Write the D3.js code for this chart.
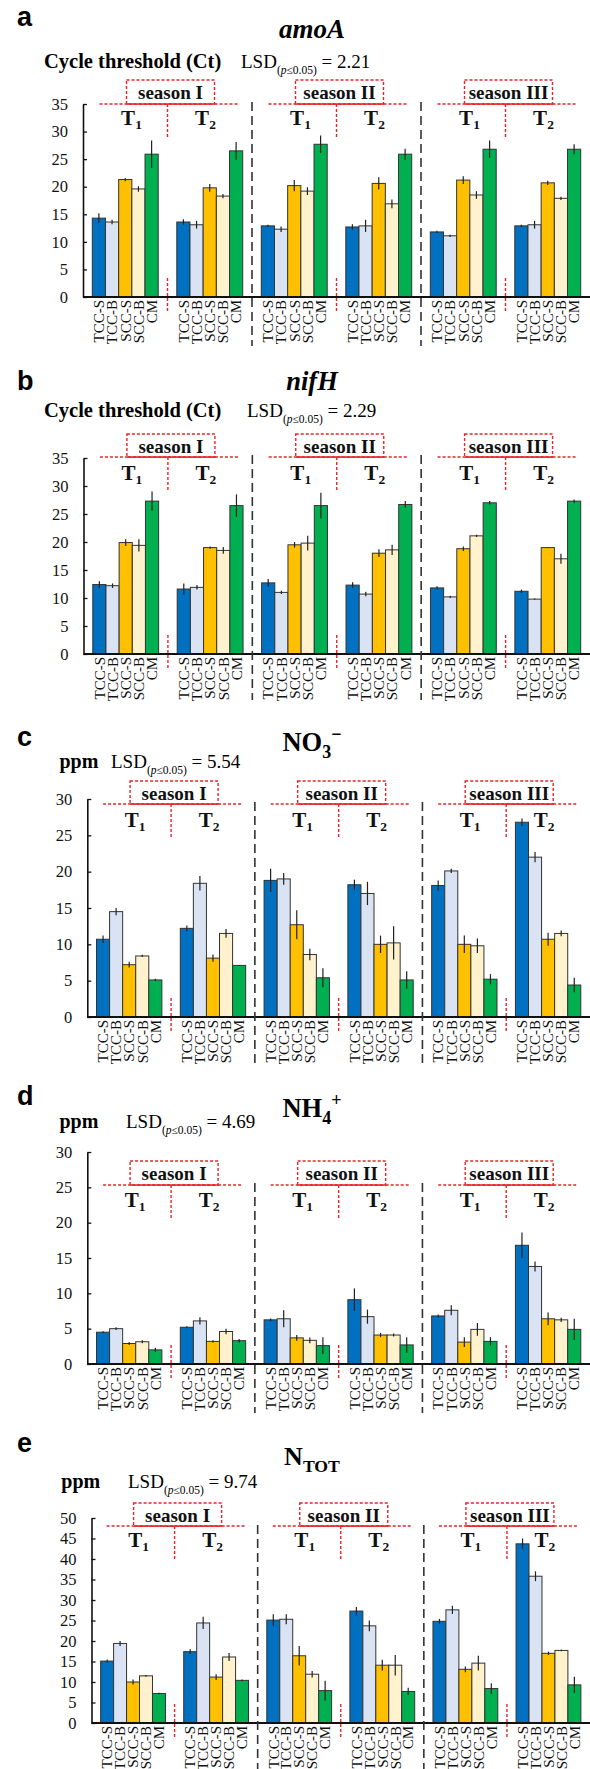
<!DOCTYPE html>
<html><head><meta charset="utf-8">
<script src="https://cdn.jsdelivr.net/npm/d3@7"></script>
<style>body{margin:0;background:#fff} svg{display:block}</style>
</head><body>
<svg id="c" width="590" height="1769"></svg>
<script>
// ---------- DATA ----------
const series = ["TCC-S","TCC-B","SCC-S","SCC-B","CM"];
const groups = ["S1-T1","S1-T2","S2-T1","S2-T2","S3-T1","S3-T2"];
const seasons = ["season I","season II","season III"];
const colors = ["#0070C0","#DAE3F3","#FFC000","#FFF2CC","#00B050"];

const amoA_mean = [[14.3,13.6,21.3,19.6,25.9],[13.6,13.1,19.8,18.3,26.5],[12.9,12.3,20.2,19.2,27.7],[12.7,12.9,20.6,16.9,25.9],[11.8,11.1,21.2,18.5,26.8],[12.9,13.1,20.7,17.9,26.8]];
const amoA_err  = [[0.9,0.4,0.3,0.5,2.5],[0.5,0.7,0.7,0.4,1.6],[0.2,0.5,1.0,0.7,1.6],[0.5,1.1,1.1,0.8,1.0],[0.2,0.2,0.7,0.7,1.6],[0.2,0.7,0.4,0.3,0.9]];
const nifH_mean = [[12.4,12.2,19.9,19.4,27.3],[11.6,11.9,19.0,18.5,26.5],[12.7,11.0,19.5,19.8,26.5],[12.3,10.7,18.0,18.6,26.7],[11.8,10.2,18.8,21.1,27.0],[11.2,9.8,19.0,17.0,27.3]];
const nifH_err  = [[0.6,0.4,0.6,1.1,1.7],[1.0,0.4,0.2,0.6,2.0],[0.7,0.3,0.5,1.3,2.3],[0.5,0.4,0.7,0.9,0.6],[0.3,0.2,0.4,0.2,0.3],[0.3,0.1,0.05,0.9,0.3]];
const no3_mean  = [[10.7,14.5,7.2,8.4,5.1],[12.2,18.4,8.1,11.5,7.1],[18.8,19.0,12.7,8.6,5.4],[18.2,17.0,10.0,10.2,5.1],[18.1,20.1,10.0,9.8,5.2],[26.8,22.0,10.7,11.5,4.4]];
const no3_err   = [[0.5,0.5,0.4,0.15,0.15],[0.4,1.0,0.5,0.6,0.05],[1.6,0.8,2.0,0.8,1.3],[0.7,1.6,1.2,2.3,1.2],[0.7,0.3,1.2,1.0,0.7],[0.5,0.7,0.9,0.4,1.0]];
const nh4_mean  = [[4.5,5.0,2.9,3.15,2.0],[5.2,6.1,3.2,4.6,3.3],[6.25,6.4,3.7,3.35,2.6],[9.1,6.7,4.1,4.1,2.7],[6.8,7.6,3.1,4.9,3.2],[16.8,13.8,6.4,6.25,4.9]];
const nh4_err   = [[0.15,0.2,0.2,0.2,0.3],[0.15,0.5,0.15,0.4,0.25],[0.2,1.2,0.4,0.4,1.2],[1.6,1.0,0.3,0.2,1.1],[0.2,0.7,0.7,0.9,0.6],[1.8,0.7,0.9,0.3,1.5]];
const ntot_mean = [[15.1,19.4,10.0,11.5,7.2],[17.4,24.4,11.2,16.1,10.4],[25.1,25.3,16.4,11.9,7.9],[27.3,23.7,14.1,14.1,7.7],[24.8,27.6,13.1,14.6,8.4],[43.7,35.8,17.0,17.7,9.3]];
const ntot_err  = [[0.4,0.6,0.6,0.2,0.2],[0.6,1.5,0.7,1.0,0.2],[1.4,1.2,2.4,0.8,2.4],[1.0,1.3,1.3,2.5,0.9],[0.6,1.0,0.7,1.8,1.3],[1.3,1.2,0.4,0.2,2.0]];

const ticks35 = [0,5,10,15,20,25,30,35];
const ticks30 = [0,5,10,15,20,25,30];
const ticks50 = [0,5,10,15,20,25,30,35,40,45,50];
const lsdValues = ["2.21","2.29","5.54","4.69","9.74"];

// ---------- LAYOUT ----------
const panels = [
 {letter:"a", title:[{t:"amoA"}], italic:true, titleFs:27, mean:amoA_mean, err:amoA_err, yMax:35, ticks:ticks35, lsd:lsdValues[0], unit:"Cycle threshold (Ct)", unitX:44, unitFs:20.5,
  axisX:83, yTop:104, yBase:297, letterY:26, titleY:38, unitY:68, lsdX:241, boxTop:80, lineY:104, tY:125, black:[102,346]},
 {letter:"b", title:[{t:"nifH"}], italic:true, titleFs:26.5, mean:nifH_mean, err:nifH_err, yMax:35, ticks:ticks35, lsd:lsdValues[1], unit:"Cycle threshold (Ct)", unitX:44, unitFs:20.5,
  axisX:83.5, yTop:458, yBase:654, letterY:390, titleY:390, unitY:417, lsdX:247, boxTop:434, lineY:457, tY:480, black:[455,700]},
 {letter:"c", title:[{t:"NO"},{t:"3",sub:true},{t:"\u2212",sup:true}], italic:false, titleFs:26.5, mean:no3_mean, err:no3_err, yMax:30, ticks:ticks30, lsd:lsdValues[2], unit:"ppm", unitX:59.5, unitFs:20,
  axisX:87.3, yTop:799, yBase:1017, letterY:746, titleY:751, unitY:768, lsdX:111, boxTop:781, lineY:804, tY:827, black:[802,1063]},
 {letter:"d", title:[{t:"NH"},{t:"4",sub:true},{t:"+",sup:true}], italic:false, titleFs:26.5, mean:nh4_mean, err:nh4_err, yMax:30, ticks:ticks30, lsd:lsdValues[3], unit:"ppm", unitX:59.5, unitFs:20,
  axisX:87.3, yTop:1152, yBase:1364, letterY:1105, titleY:1117, unitY:1128, lsdX:126, boxTop:1161, lineY:1185, tY:1207, black:[1183,1413]},
 {letter:"e", title:[{t:"N"},{t:"TOT",sub:true}], italic:false, titleFs:26, mean:ntot_mean, err:ntot_err, yMax:50, ticks:ticks50, lsd:lsdValues[4], unit:"ppm", unitX:61.3, unitFs:20,
  axisX:91.5, yTop:1518, yBase:1723, letterY:1452, titleY:1465, unitY:1488, lsdX:128, boxTop:1503, lineY:1526, tY:1547, black:[1525,1769]}
];

const SERIF = "'Liberation Serif','Times New Roman',serif";
const SANS = "'Liberation Sans',Arial,sans-serif";
const RED = "#E8242A";
const svg = d3.select("#c");
const RIGHT = 590;

panels.forEach(p => {
  const g = svg.append("g");
  const x0 = d3.scaleBand().domain(groups).range([p.axisX, RIGHT]).paddingInner(0.22).paddingOuter(0.11);
  const x1 = d3.scaleBand().domain(series).range([0, x0.bandwidth()]);
  const y = d3.scaleLinear().domain([0, p.yMax]).range([p.yBase, p.yTop]);
  const boundary = i => (x0(groups[i]) + x0.bandwidth() + x0(groups[i+1])) / 2;

  // panel letter
  g.append("text").attr("x", 17).attr("y", p.letterY).attr("font-family", SANS)
    .attr("font-weight", "bold").attr("font-size", 27).text(p.letter);

  // title
  const tt = g.append("text").attr("x", 312).attr("y", p.titleY).attr("text-anchor", "middle")
    .attr("font-family", SERIF).attr("font-weight", "bold").attr("font-size", p.titleFs)
    .attr("font-style", p.italic ? "italic" : "normal");
  let shift = 0;
  p.title.forEach(part => {
    const ts = tt.append("tspan").text(part.t);
    if (part.sub) { ts.attr("font-size", p.titleFs*0.68).attr("dy", 7 - shift); shift = 7; }
    else if (part.sup) { ts.attr("font-size", p.titleFs*0.68).attr("dy", -11 - shift); shift = -11; }
  });

  // unit label
  g.append("text").attr("x", p.unitX).attr("y", p.unitY).attr("font-family", SERIF)
    .attr("font-weight", "bold").attr("font-size", p.unitFs).text(p.unit);

  // LSD
  const lt = g.append("text").attr("x", p.lsdX).attr("y", p.unitY).attr("font-family", SERIF).attr("font-size", 19);
  lt.append("tspan").text("LSD");
  lt.append("tspan").attr("font-size", 11.5).attr("dy", 6).text("(");
  lt.append("tspan").attr("font-size", 11.5).attr("font-style", "italic").text("p");
  lt.append("tspan").attr("font-size", 11.5).text("\u22640.05)");
  lt.append("tspan").attr("dy", -6).text(" = " + p.lsd);

  // y axis
  const ya = d3.axisLeft(y).tickValues(p.ticks).tickSizeInner(-4).tickSizeOuter(0).tickPadding(15);
  const yg = g.append("g").attr("transform", `translate(${p.axisX},0)`).call(ya);
  yg.select(".domain").attr("stroke", "#111").attr("stroke-width", 1.6);
  yg.selectAll(".tick line").attr("stroke", "#111").attr("stroke-width", 1.3);
  yg.selectAll(".tick text").attr("font-family", SERIF).attr("font-size", 16.5).attr("fill", "#111");

  // bars
  groups.forEach((gr, gi) => {
    series.forEach((s, si) => {
      const v = p.mean[gi][si], e = p.err[gi][si];
      const bx = x0(gr) + x1(s);
      g.append("rect").attr("x", bx).attr("y", y(v)).attr("width", x1.bandwidth())
        .attr("height", p.yBase - y(v)).attr("fill", colors[si]).attr("stroke", "#333").attr("stroke-width", 1);
      g.append("line").attr("x1", bx + x1.bandwidth()/2).attr("x2", bx + x1.bandwidth()/2)
        .attr("y1", y(v - e)).attr("y2", y(v + e)).attr("stroke", "#222").attr("stroke-width", 1.2);
      g.append("text").attr("transform", `translate(${bx + x1.bandwidth()/2},${p.yBase + 3}) rotate(-90)`)
        .attr("text-anchor", "end").attr("dy", "0.35em").attr("font-family", SERIF).attr("font-size", 15)
        .attr("fill", "#111").text(s);
    });
  });

  // x axis line
  g.append("line").attr("x1", p.axisX).attr("x2", RIGHT).attr("y1", p.yBase).attr("y2", p.yBase)
    .attr("stroke", "#111").attr("stroke-width", 2);

  // black dashed separators between seasons
  [1, 3].forEach(i => {
    g.append("line").attr("x1", boundary(i)).attr("x2", boundary(i)).attr("y1", p.black[0]).attr("y2", p.black[1])
      .attr("stroke", "#333").attr("stroke-width", 1.6).attr("stroke-dasharray", "9,5");
  });

  // season annotations
  seasons.forEach((sn, k) => {
    const b = boundary(2*k);
    g.append("line").attr("x1", b - 68).attr("x2", b + 70).attr("y1", p.lineY).attr("y2", p.lineY)
      .attr("stroke", RED).attr("stroke-width", 1.4).attr("stroke-dasharray", "3,2");
    const bw = 88, bh = p.lineY - p.boxTop;
    g.append("rect").attr("x", b + 3 - bw/2).attr("y", p.boxTop).attr("width", bw).attr("height", bh)
      .attr("fill", "#fff").attr("stroke", RED).attr("stroke-width", 1.4).attr("stroke-dasharray", "3,2");
    g.append("line").attr("x1", b + 3 - bw/2).attr("x2", b + 3 + bw/2).attr("y1", p.lineY).attr("y2", p.lineY)
      .attr("stroke", RED).attr("stroke-width", 1.6);
    g.append("text").attr("x", b + 3).attr("y", p.boxTop + 19).attr("text-anchor", "middle")
      .attr("font-family", SERIF).attr("font-weight", "bold").attr("font-size", 19).attr("fill", "#111").text(sn);
    g.append("line").attr("x1", b).attr("x2", b).attr("y1", p.lineY).attr("y2", p.lineY + 33)
      .attr("stroke", RED).attr("stroke-width", 1.4).attr("stroke-dasharray", "3,2");
    g.append("line").attr("x1", b).attr("x2", b).attr("y1", p.yBase - 19).attr("y2", p.yBase + 15)
      .attr("stroke", RED).attr("stroke-width", 1.4).attr("stroke-dasharray", "3,2");
    [["1", -36], ["2", 38]].forEach(([n, off]) => {
      const t = g.append("text").attr("x", b + off).attr("y", p.tY).attr("text-anchor", "middle")
        .attr("font-family", SERIF).attr("font-weight", "bold").attr("font-size", 21).attr("fill", "#111");
      t.append("tspan").text("T");
      t.append("tspan").attr("font-size", 13.5).attr("dy", 4).text(n);
    });
  });
});
</script>
</body></html>
